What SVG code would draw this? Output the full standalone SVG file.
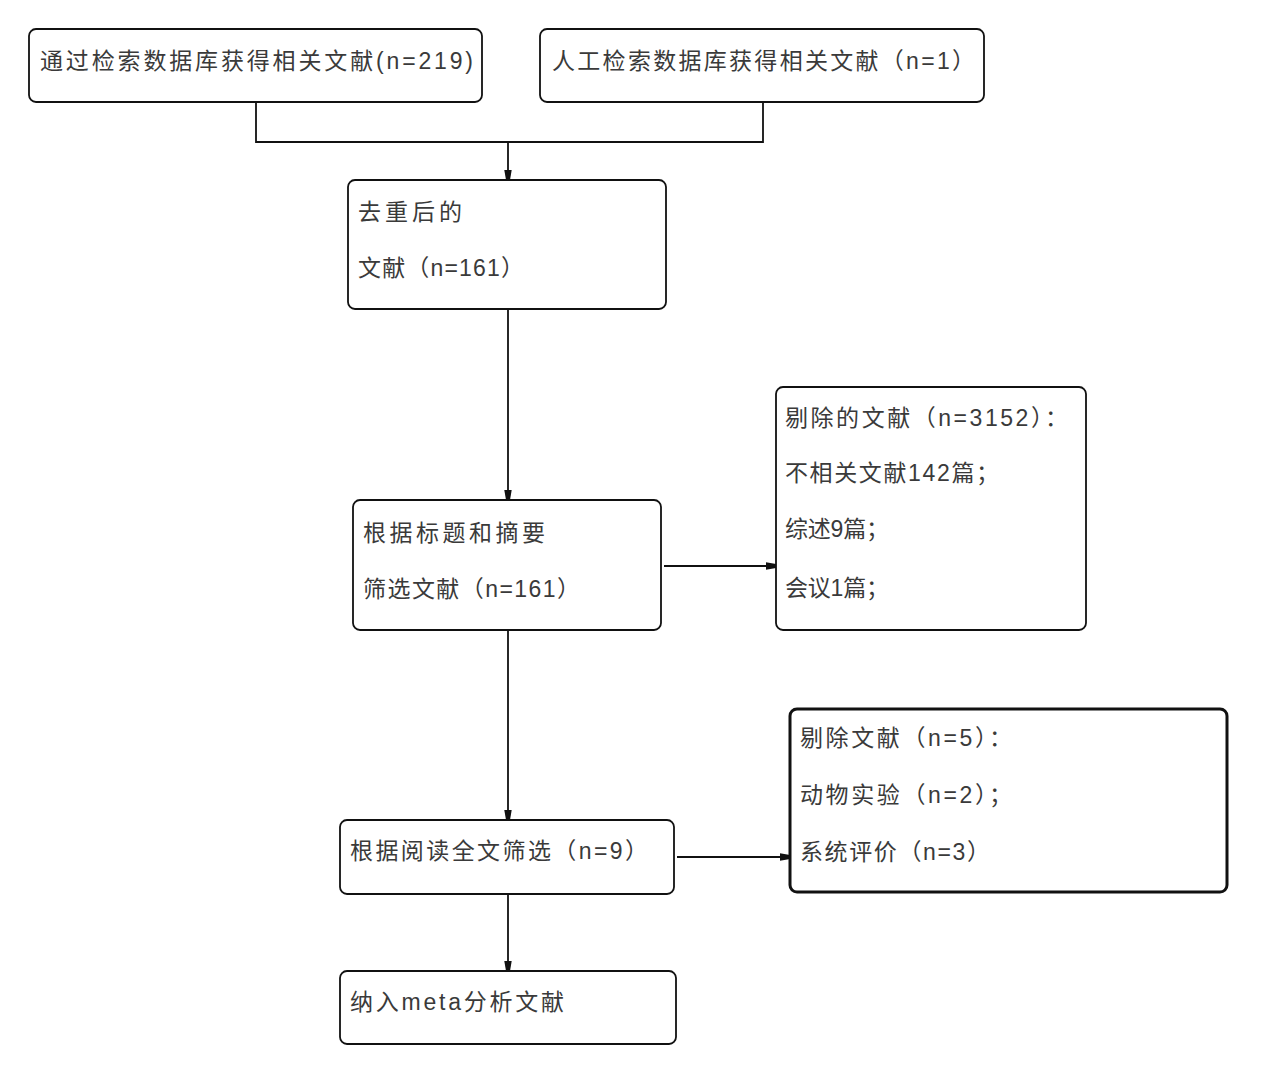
<svg xmlns="http://www.w3.org/2000/svg" width="1269" height="1084" viewBox="0 0 1269 1084">
<style>
.box{fill:#fff;stroke:#111;stroke-width:1.8}
.thick{stroke-width:3}
.t{font-family:"Liberation Sans","Noto Sans CJK SC",sans-serif;font-size:23px;fill:#3a3a3a}
.c{fill:none;stroke:#111;stroke-width:1.8}
</style>
<defs>
<marker id="ah" viewBox="0 0 10 8" refX="10" refY="4" markerWidth="10" markerHeight="8" markerUnits="userSpaceOnUse" orient="auto">
<path d="M0,0.3 L10,2 L10,6 L0,7.7 Z" fill="#111"/>
</marker>
</defs>
<rect width="1269" height="1084" fill="#fff"/>
<g id="connectors">
<path class="c" d="M256,102 V142 H763 V102"/>
<path class="c" d="M508,142 V180" marker-end="url(#ah)"/>
<path class="c" d="M508,309 V500" marker-end="url(#ah)"/>
<path class="c" d="M664,566 H776" marker-end="url(#ah)"/>
<path class="c" d="M508,630 V820" marker-end="url(#ah)"/>
<path class="c" d="M677,857 H790" marker-end="url(#ah)"/>
<path class="c" d="M508,894 V971" marker-end="url(#ah)"/>
</g>
<g id="n1">
<rect class="box" x="29" y="29" width="453" height="73" rx="7"/>
<text class="t" x="40" y="69" textLength="433" lengthAdjust="spacing">通过检索数据库获得相关文献(n=219)</text>
</g>
<g id="n2">
<rect class="box" x="540" y="29" width="444" height="73" rx="7"/>
<text class="t" x="552" y="69" textLength="423" lengthAdjust="spacing">人工检索数据库获得相关文献（n=1）</text>
</g>
<g id="n3">
<rect class="box" x="348" y="180" width="318" height="129" rx="7"/>
<text class="t" x="358" y="220" textLength="104" lengthAdjust="spacing">去重后的</text>
<text class="t" x="358" y="276" textLength="166" lengthAdjust="spacing">文献（n=161）</text>
</g>
<g id="n4">
<rect class="box" x="353" y="500" width="308" height="130" rx="7"/>
<text class="t" x="363" y="541" textLength="182" lengthAdjust="spacing">根据标题和摘要</text>
<text class="t" x="363" y="597" textLength="217" lengthAdjust="spacing">筛选文献（n=161）</text>
</g>
<g id="n5">
<rect class="box" x="776" y="387" width="310" height="243" rx="7"/>
<text class="t" x="785" y="426" textLength="283" lengthAdjust="spacing">剔除的文献（n=3152）：</text>
<text class="t" x="785" y="481" textLength="214" lengthAdjust="spacing">不相关文献142篇；</text>
<text class="t" x="785" y="537" textLength="104" lengthAdjust="spacing">综述9篇；</text>
<text class="t" x="785" y="596" textLength="104" lengthAdjust="spacing">会议1篇；</text>
</g>
<g id="n6">
<rect class="box" x="340" y="820" width="334" height="74" rx="7"/>
<text class="t" x="350" y="859" textLength="298" lengthAdjust="spacing">根据阅读全文筛选（n=9）</text>
</g>
<g id="n7">
<rect class="box thick" x="790" y="709" width="437" height="183" rx="7"/>
<text class="t" x="800" y="746" textLength="212" lengthAdjust="spacing">剔除文献（n=5）：</text>
<text class="t" x="800" y="803" textLength="212" lengthAdjust="spacing">动物实验（n=2）；</text>
<text class="t" x="800" y="860" textLength="190" lengthAdjust="spacing">系统评价（n=3）</text>
</g>
<g id="n8">
<rect class="box" x="340" y="971" width="336" height="73" rx="7"/>
<text class="t" x="350" y="1010" textLength="214" lengthAdjust="spacing">纳入meta分析文献</text>
</g>
</svg>
